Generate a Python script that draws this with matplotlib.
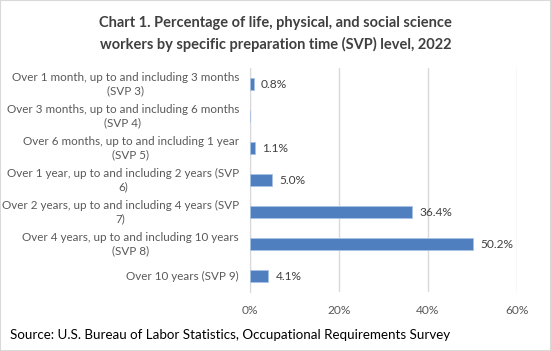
import numpy as np
import matplotlib.pyplot as plt
from matplotlib.patches import Rectangle

plt.rcParams['font.family'] = ['Lato', 'DejaVu Sans']

categories = [
    "Over 1 month, up to and including 3 months\n(SVP 3)",
    "Over 3 months, up to and including 6 months\n(SVP 4)",
    "Over 6 months, up to and including 1 year\n(SVP 5)",
    "Over 1 year, up to and including 2 years (SVP\n6)",
    "Over 2 years, up to and including 4 years (SVP\n7)",
    "Over 4 years, up to and including 10 years\n(SVP 8)",
    "Over 10 years (SVP 9)",
]
values = [0.8, np.nan, 1.1, 5.0, 36.4, 50.2, 4.1]
xticks = [0, 20, 40, 60]

fig = plt.figure(figsize=(5.51, 3.51), dpi=100)
ax = fig.add_axes([0.4537, 0.168, 0.938 - 0.4537, 0.806 - 0.168])

y = np.arange(len(categories))
ax.barh(y, np.nan_to_num(values), height=0.36, color='#4f7fbf',
        edgecolor='#a9c1e3', linewidth=0.6, zorder=3)
for yi, v in zip(y, values):
    if not np.isnan(v):
        ax.text(v + 1.7, yi, f"{v:.1f}%", va='center', ha='left',
                fontsize=8.6, color='#404040')

ax.set_ylim(len(categories) - 0.5, -0.5)
ax.set_xlim(0, 60)
ax.set_xticks(xticks)
ax.set_xticklabels([f"{t}%" for t in xticks])
ax.set_yticks(y)
ax.set_yticklabels([])
# category labels drawn by hand so each wrapped label is centred
for yi, cat in zip(y, categories):
    ax.annotate(cat, xy=(0, yi), xycoords=('axes fraction', 'data'),
                xytext=(-8, 0), textcoords='offset points',
                ha='right', va='center', multialignment='center',
                fontsize=8.4, color='#595959', linespacing=1.3)
ax.tick_params(axis='both', length=0, colors='#595959')
ax.tick_params(axis='x', pad=9, labelsize=8.6)
ax.grid(axis='x', color='#d9d9d9', linewidth=1, zorder=0)
for s in ['top', 'right', 'bottom']:
    ax.spines[s].set_visible(False)
ax.spines['left'].set_color('#d9d9d9')

fig.text(0.5, 0.903, "Chart 1. Percentage of life, physical, and social science\n"
         "workers by specific preparation time (SVP) level, 2022",
         ha='center', va='center', fontsize=10.5, fontweight='bold',
         color='#404040', linespacing=1.6)
fig.text(10 / 551, 1 - 335 / 351, "Source: U.S. Bureau of Labor Statistics, Occupational Requirements Survey",
         ha='left', va='center', fontsize=9.6, color='black')

fig.patches.append(Rectangle((0, 0), 1, 1, transform=fig.transFigure, fill=False,
                             edgecolor='#d9d9d9', linewidth=1.5))

fig.savefig('out.png', dpi=100)
